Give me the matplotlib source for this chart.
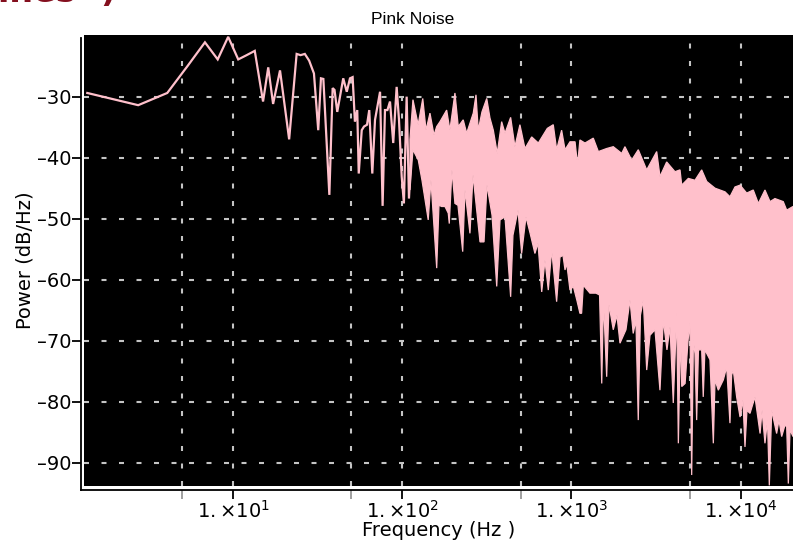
import numpy as np
import matplotlib
matplotlib.use("Agg")
import matplotlib.pyplot as plt
from matplotlib.ticker import FixedLocator, FixedFormatter, NullFormatter

plt.rcParams['font.family'] = ['DejaVu Sans']
plt.rcParams['mathtext.fontset'] = 'dejavusans'

# ---- data ----
# low-frequency part: individual spectrum points (Hz, dB/Hz)
line_f = [1.37, 2.74, 4.07, 5.36, 6.80, 8.09, 9.33, 10.7, 12.0, 13.4, 15.0, 16.1, 17.2, 18.9,
          21.4, 23.7, 25.0, 26.5, 28.1, 30.0, 31.8, 33.0, 34.1, 37.0, 38.7, 39.7, 41.2, 44.7,
          46.9, 49.0, 50.8, 52.4, 54.1, 55.2, 57.5, 59.3, 61.8, 63.7, 66.4, 68.9, 73.8, 76.4,
          78.9, 81.6, 84.5, 88.3, 92.5, 95.5, 99.1, 102.1, 106.0, 109.4, 114.0]
line_db = [-29.4, -31.4, -29.4, -25.0, -21.1, -23.9, -20.2, -23.9, -23.2, -22.5, -30.8, -25.2,
           -31.2, -25.7, -37.0, -23.0, -23.2, -23.0, -24.1, -26.2, -35.5, -27.0, -27.1, -46.1,
           -28.6, -28.9, -32.5, -27.0, -29.2, -27.0, -26.8, -34.1, -32.2, -42.6, -35.5, -34.9,
           -34.6, -32.2, -42.6, -33.8, -29.2, -47.9, -32.2, -32.2, -30.8, -37.6, -28.4, -33.8,
           -43.1, -47.5, -30.0, -46.7, -37.1]

# dense part: upper envelope of the spectrum
upper_f = [110.9, 115.5, 124, 132, 138, 145.6, 153.8, 159.6, 166.9, 182.8, 191, 204.6, 214, 229,
           240, 262.6, 272.5, 281, 295.6, 315.4, 329.6, 345, 364, 386.5, 404.5, 436.8, 463,
           495.5, 530.9, 581.8, 636.8, 719.7, 780.5, 817, 874.6, 916, 980, 1050, 1086, 1122,
           1202, 1346, 1442, 1615, 1767, 1982, 2071, 2270, 2484, 2786, 3192, 3337, 3656, 4093,
           4385, 4487, 4910, 5375, 5890, 6306, 7063, 8091, 8655, 9268, 9931, 10870, 11890,
           12740, 13940, 14930, 15970, 17880, 18740, 20420]
upper_db = [-37.0, -30.5, -34.6, -30.3, -35.5, -32.7, -36.3, -34.9, -34.1, -32.2, -35.5, -29.4,
            -34.9, -33.8, -36.0, -32.7, -29.7, -35.5, -32.5, -30.3, -33.5, -35.5, -39.3, -34.1,
            -36.0, -33.4, -38.2, -34.6, -38.5, -36.6, -37.6, -35.2, -34.6, -38.7, -35.5, -38.7,
            -37.4, -37.4, -41.2, -37.1, -37.6, -36.8, -39.0, -38.5, -38.2, -39.3, -38.2, -40.4,
            -38.7, -42.0, -39.0, -43.1, -40.7, -42.3, -42.0, -44.5, -43.4, -43.7, -42.0, -43.9,
            -45.0, -45.6, -46.4, -44.8, -44.5, -45.8, -45.3, -47.5, -45.3, -47.2, -46.7, -47.2,
            -48.6, -48.0]

# dense part: lower envelope of the spectrum
lower_f = [110.9, 115.5, 124.2, 130.6, 142.2, 147.6, 159.6, 164.6, 170.7, 178.6, 186.8, 189.4,
           196.4, 204.6, 213.2, 227.4, 234.6, 251, 261.7, 287.8, 304, 316.5, 339, 361.4, 378,
           404.5, 436.8, 450.8, 483, 507.4, 538.2, 568.4, 608, 633.8, 666.8, 697, 729.5, 764,
           817, 855, 891, 916, 937, 980, 1026, 1075, 1122, 1148, 1175, 1286, 1396, 1466, 1510,
           1546, 1615, 1667, 1767, 1858, 1936, 2100, 2218, 2318, 2405, 2483, 2558, 2659, 2786,
           2913, 3118, 3337, 3491, 3670, 3826, 4000, 4192, 4286, 4416, 4488, 4699, 4892, 5021,
           5139, 5260, 5375, 5500, 5636, 5890, 6015, 6155, 6591, 6901, 7063, 7387, 7910, 8280,
           8655, 8855, 9057, 9481, 9931, 10330, 10620, 10910, 11370, 12170, 13040, 13400,
           13940, 14430, 14790, 15280, 16340, 16870, 17500, 18320, 18740, 19160, 19610, 20420]
lower_db = [-45.3, -38.7, -40.4, -43.7, -50.2, -43.7, -58.1, -47.8, -48.0, -48.0, -49.1, -50.8,
            -42.0, -47.5, -47.8, -55.4, -45.3, -52.4, -42.8, -53.8, -53.8, -44.5, -49.4, -61.1,
            -50.2, -49.7, -62.8, -52.7, -48.6, -55.7, -49.7, -52.3, -55.7, -54.0, -62.0, -56.8,
            -61.7, -55.1, -63.6, -56.3, -56.0, -58.4, -57.3, -61.7, -61.1, -63.3, -65.5, -65.5,
            -60.9, -62.2, -62.2, -62.5, -77.0, -63.3, -75.9, -64.1, -68.2, -65.8, -70.4, -68.2,
            -63.3, -68.8, -66.6, -83.0, -65.8, -63.3, -74.8, -69.1, -68.2, -78.1, -66.6, -71.5,
            -67.7, -80.2, -65.5, -86.8, -68.2, -77.5, -77.0, -69.9, -67.1, -92.0, -69.9, -72.1,
            -83.0, -71.5, -71.5, -79.2, -71.5, -73.1, -86.8, -76.4, -78.1, -76.4, -74.3, -83.5,
            -75.6, -74.8, -79.2, -82.5, -79.7, -87.4, -81.4, -81.9, -79.2, -85.2, -81.4, -86.8,
            -83.0, -93.7, -81.4, -85.2, -83.0, -85.7, -83.8, -84.1, -93.4, -84.6, -85.7]

xticks_major = [10, 100, 1000, 10000]
xtick_labels = [r'$1.{\times}10^{1}$', r'$1.{\times}10^{2}$', r'$1.{\times}10^{3}$',
                r'$1.{\times}10^{4}$']
xticks_minor = [5, 50, 500, 5000]
yticks = [-30, -40, -50, -60, -70, -80, -90]
ytick_labels = ['\u201330', '\u201340', '\u201350', '\u201360', '\u201370', '\u201380', '\u201390']

# ---- figure ----
W, H = 793, 542
fig = plt.figure(figsize=(W / 100, H / 100), dpi=100)
L, R, T, B = 84, 793, 35, 486
ax = fig.add_axes([L / W, (H - B) / H, (R - L) / W, (B - T) / H])
ax.set_facecolor('black')
ax.set_xscale('log')
ax.set_xlim(1.31, 20420)
ax.set_ylim(-93.8, -19.9)

pink = '#ffc0cb'
poly_f = np.concatenate([upper_f, lower_f[::-1]])
poly_db = np.concatenate([upper_db, lower_db[::-1]])
ax.fill(poly_f, poly_db, facecolor=pink, edgecolor=pink, lw=0.9, zorder=3)
ax.plot(line_f, line_db, color=pink, lw=1.6, zorder=4, solid_joinstyle='miter')

# grid
ax.xaxis.set_major_locator(FixedLocator(xticks_major))
ax.xaxis.set_major_formatter(FixedFormatter(xtick_labels))
ax.xaxis.set_minor_locator(FixedLocator(xticks_minor))
ax.xaxis.set_minor_formatter(NullFormatter())
ax.yaxis.set_major_locator(FixedLocator(yticks))
ax.yaxis.set_major_formatter(FixedFormatter(ytick_labels))
ax.set_axisbelow(True)
gstyle = dict(color='#c4c4c4', lw=1.5, linestyle=(0, (2.4, 6.0)))
ax.grid(True, which='major', axis='both', **gstyle)
ax.grid(True, which='minor', axis='x', **gstyle)

for s in ['top', 'right']:
    ax.spines[s].set_visible(False)
ax.spines['left'].set_position(('outward', 2.2))
ax.spines['bottom'].set_position(('outward', 2.9))
ax.spines['left'].set_bounds(-94.45, -20.4)
ax.spines['bottom'].set_bounds(1.257, 30000)
for s in ['left', 'bottom']:
    ax.spines[s].set_linewidth(1.3)
    ax.spines[s].set_color('black')

ax.tick_params(axis='both', which='major', length=6.3, width=1.3, color='black',
               labelsize=14, pad=1.0)
ax.tick_params(axis='x', which='minor', length=6.3, width=1.3, color='#999999')
ax.tick_params(axis='y', which='major', pad=0.5)

ax.set_xlabel('Frequency (Hz )', fontsize=14, labelpad=-0.5)
ax.set_ylabel('Power (dB/Hz)', fontsize=14, labelpad=2)

fig.text(413 / W, 1 - 20 / H, 'Pink Noise', ha='center', va='center', fontsize=12.5,
         family='Liberation Sans', color='black')
fig.text(-2 / W, 1 + 8 / H, 'ines -)', ha='left', va='center', fontsize=24,
         color='#840f1e', family='DejaVu Sans', fontweight='bold')

fig.savefig('out.png', dpi=100)
